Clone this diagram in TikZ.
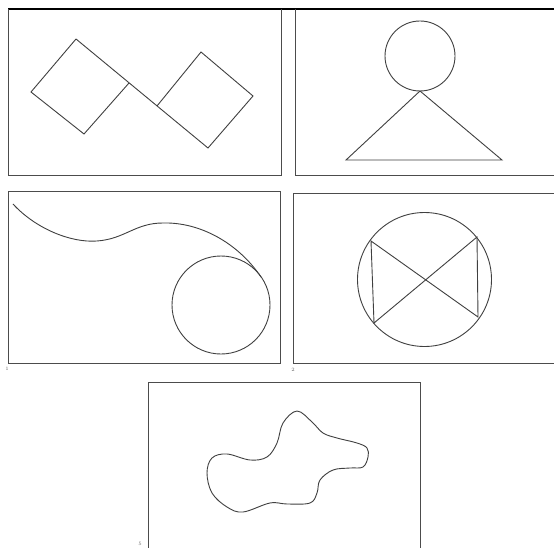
\documentclass[tikz,border=0pt]{standalone}
\begin{document}
\begin{tikzpicture}[x=1pt,y=-1pt,
  frame/.style={draw=black!70,line width=1pt},
  figline/.style={draw=black!75,line width=0.9pt},
  tinylabel/.style={font=\fontsize{5}{5}\selectfont,text=black!60,inner sep=0pt}]
\useasboundingbox[fill=white] (0,0) rectangle (554,548);
% top rule
\draw[black,line width=2pt] (8,9) -- (554,9);
% panel frames
\draw[frame] (8,9) -- (8,176) -- (281,176) -- (281,9);
\draw[frame] (295,9) -- (295,176) -- (554,176);
\draw[frame] (8,192) rectangle (280,363);
\draw[frame] (554,194) -- (293,194) -- (293,363) -- (554,363);
\draw[frame] (148,548) -- (148,382) -- (420,382) -- (420,548);
% panel 1: two diamonds
\coordinate (a1) at (76,39); \coordinate (a2) at (31,92);
\coordinate (a3) at (84,134); \coordinate (a4) at (129,83);
\coordinate (b1) at (157,106); \coordinate (b2) at (201,52);
\coordinate (b3) at (253,96); \coordinate (b4) at (208,148);
\draw[figline] (a1) -- (a2) -- (a3) -- (a4);
\draw[figline] (a1) -- (b4) -- (b3) -- (b2) -- (b1);
% panel 2: circle on triangle
\node[figline,circle,minimum size=70pt,inner sep=0pt] (head) at (420,56) {};
\coordinate (apex) at (420,91);
\coordinate (tl) at (346,160); \coordinate (tr) at (502,160);
\draw[figline] (apex) -- (tl) -- (tr) -- cycle;
% panel 3: curve into circle
\node[figline,circle,minimum size=98pt,inner sep=0pt] (c3) at (221,305) {};
\coordinate (s0) at (13,204); \coordinate (s1) at (97,241);
\coordinate (s2) at (163,223); \coordinate (s3) at (261,277);
\draw[figline] (s0) .. controls (35,228) and (70,243) .. (s1)
  .. controls (125,239) and (135,223) .. (s2)
  .. controls (200,222) and (238,243) .. (s3);
% panel 4: circle with bow tie
\node[figline,circle,minimum size=134pt,inner sep=0pt] (c4) at (424.5,279.5) {};
\coordinate (ul) at (371,241); \coordinate (ll) at (374,323);
\coordinate (ur) at (477,237); \coordinate (lr) at (478,317);
\draw[figline] (ul) -- (lr) -- (ur) -- (ll) -- cycle;
% panel 5: blob
\draw[figline] plot[smooth cycle,tension=0.6] coordinates {
 (297,411) (283,423) (277,443) (267,457) (250,460) (227,454) (212,458)
 (207,473) (212,493) (227,507) (243,512) (270,503) (287,504) (310,503)
 (317,493) (320,480) (333,470) (350,468) (363,467) (368,457) (367,448)
 (357,443) (337,438) (323,433) (312,422)};
% tiny marks
\node[tinylabel] (m1) at (7,369) {1};
\node[tinylabel] (m2) at (293,370) {2};
\node[tinylabel] (m5) at (140,544) {5};
\end{tikzpicture}
\end{document}
